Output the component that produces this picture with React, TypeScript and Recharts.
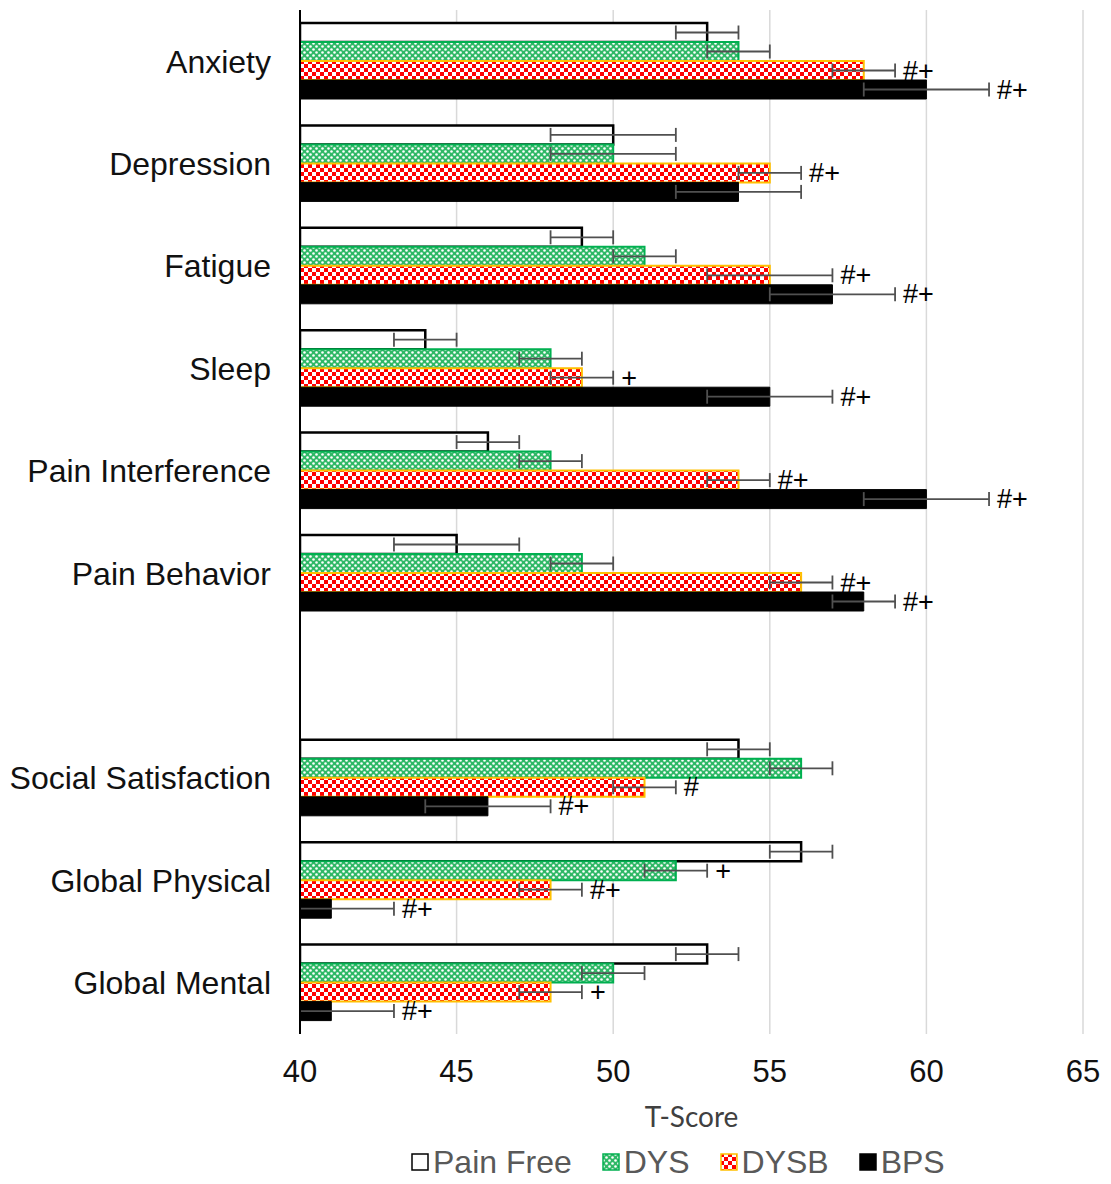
import { BarChart, Bar, XAxis, YAxis, CartesianGrid, ErrorBar, LabelList, Legend, Label } from 'recharts'

const FONT = '"Liberation Sans", Arial, sans-serif'

// categories (the blank one is the visual gap between the two domain groups)
const categories = [
    'Anxiety',
    'Depression',
    'Fatigue',
    'Sleep',
    'Pain Interference',
    'Pain Behavior',
    '',
    'Social Satisfaction',
    'Global Physical',
    'Global Mental',
]

type Err = number | [number, number] | null

const painFree = [53, 50, 49, 44, 46, 45, null, 54, 56, 53]
const painFreeErr: Err[] = [1, 2, 1, 1, 1, 2, null, 1, 1, 1]
const painFreeNote = ['', '', '', '', '', '', '', '', '', '']

const dys = [54, 50, 51, 48, 48, 49, null, 56, 52, 50]
const dysErr: Err[] = [1, 2, 1, 1, 1, 1, null, 1, 1, 1]
const dysNote = ['', '', '', '', '', '', '', '', '+', '']

const dysb = [58, 55, 55, 49, 54, 56, null, 51, 48, 48]
const dysbErr: Err[] = [1, 1, 2, 1, 1, 1, null, 1, 1, 1]
const dysbNote = ['#+', '#+', '#+', '+', '#+', '#+', '', '#', '#+', '+']

// lower whisker of the last two is cut off at the axis (40)
const bps = [60, 54, 57, 55, 60, 58, null, 46, 41, 41]
const bpsErr: Err[] = [2, 2, 2, 2, 2, 1, null, 2, [1, 2], [1, 2]]
const bpsNote = ['#+', '', '#+', '#+', '#+', '#+', '', '#+', '#+', '#+']

const xTicks = [40, 45, 50, 55, 60, 65]

const data = categories.map((name, i) => ({
    name,
    painFree: painFree[i],
    painFreeErr: painFreeErr[i],
    painFreeNote: painFreeNote[i],
    dys: dys[i],
    dysErr: dysErr[i],
    dysNote: dysNote[i],
    dysb: dysb[i],
    dysbErr: dysbErr[i],
    dysbNote: dysbNote[i],
    bps: bps[i],
    bpsErr: bpsErr[i],
    bpsNote: bpsNote[i],
}))

const legendItems = [
    { name: 'Pain Free', fill: '#ffffff', stroke: '#000000' },
    { name: 'DYS', fill: 'url(#dysPattern)', stroke: '#00b050' },
    { name: 'DYSB', fill: 'url(#dysbPattern)', stroke: '#ffc000' },
    { name: 'BPS', fill: '#000000', stroke: '#000000' },
]

const upper = (e: Err) => (Array.isArray(e) ? e[1] : e ?? 0)

// pack note + value + error into the label value so the position
// does not depend on label indexes (null rows are skipped)
const noteKey = (key: string) => (d: any) =>
    d[key + 'Note'] ? { note: d[key + 'Note'], v: d[key], e: upper(d[key + 'Err']) } : ''

function renderNote(props: any) {
    const info = props.value
    if (!info || !info.note) return null
    const vb = props.viewBox ?? props
    const perUnit = vb.width / (info.v - 40)
    const tx = vb.x + vb.width + info.e * perUnit + 8
    return (
        <text x={tx} y={vb.y + vb.height / 2 + 2} dominantBaseline="middle" fontSize={27} fontFamily={FONT} fill="#000">
            {info.note}
        </text>
    )
}

function ChartLegend() {
    return (
        <div style={{ display: 'flex', alignItems: 'center', height: 44, paddingLeft: 411, fontFamily: FONT, fontSize: 32, color: '#595959' }}>
            {legendItems.map((item) => (
                <div key={item.name} style={{ display: 'flex', alignItems: 'center', marginRight: 30 }}>
                    <svg width={18} height={18} style={{ marginRight: 4 }}>
                        <rect x={1} y={1} width={16} height={16} fill={item.fill} stroke={item.stroke} strokeWidth={1.5} />
                    </svg>
                    <span>{item.name}</span>
                </div>
            ))}
        </div>
    )
}

export default function App() {
    return (
        <div style={{ position: 'relative', width: 1111, height: 1184, background: '#fff' }}>
            <style>{'body{margin:0}'}</style>
            <svg width={0} height={0} style={{ position: 'absolute' }}>
                <defs>
                    <pattern id="dysPattern" patternUnits="userSpaceOnUse" width={6} height={6}>
                        <rect width={6} height={6} fill="#2fb866" />
                        <circle cx={1.5} cy={1.5} r={1.3} fill="#ffffff" />
                        <circle cx={4.5} cy={4.5} r={1.3} fill="#ffffff" />
                    </pattern>
                    <pattern id="dysbPattern" patternUnits="userSpaceOnUse" width={8} height={8}>
                        <rect width={8} height={8} fill="#ffffff" />
                        <rect x={0} y={0} width={4} height={4} fill="#ff0000" />
                        <rect x={4} y={4} width={4} height={4} fill="#ff0000" />
                    </pattern>
                </defs>
            </svg>
            <BarChart
                width={1111}
                height={1184}
                data={data}
                layout="vertical"
                barSize={19}
                barGap={0}
                margin={{ top: 10, right: 28, bottom: 0, left: 0 }}
            >
                <CartesianGrid horizontal={false} stroke="#d9d9d9" strokeWidth={1.5} />
                <XAxis
                    type="number"
                    domain={[40, 65]}
                    ticks={xTicks}
                    allowDataOverflow
                    axisLine={false}
                    tickLine={false}
                    tickSize={0}
                    tickMargin={26}
                    height={106}
                    tick={{ fontSize: 31, fill: '#111', fontFamily: FONT }}
                >
                    <Label
                        content={(p: any) => {
                            const vb = p.viewBox
                            return (
                                <text x={vb.x + vb.width / 2} y={1120} textAnchor="middle" dominantBaseline="middle" fontSize={28} fontFamily="Lato, sans-serif" fill="#404040">
                                    T-Score
                                </text>
                            )
                        }}
                    />
                </XAxis>
                <YAxis
                    type="category"
                    dataKey="name"
                    width={300}
                    interval={0}
                    tickLine={false}
                    tickSize={0}
                    tickMargin={29}
                    axisLine={{ stroke: '#000', strokeWidth: 2 }}
                    tick={{ fontSize: 32, fill: '#111', fontFamily: FONT }}
                />
                <Legend verticalAlign="bottom" content={() => <ChartLegend />} wrapperStyle={{ left: 0, width: 1111 }} />
                <Bar dataKey="painFree" name="Pain Free" fill="#ffffff" stroke="#000000" strokeWidth={2.5} isAnimationActive={false}>
                    <ErrorBar dataKey="painFreeErr" direction="x" width={7} stroke="#505050" strokeWidth={1.8} />
                    <LabelList dataKey={noteKey('painFree')} content={renderNote} />
                </Bar>
                <Bar dataKey="dys" name="DYS" fill="url(#dysPattern)" stroke="#00b050" strokeWidth={2} isAnimationActive={false}>
                    <ErrorBar dataKey="dysErr" direction="x" width={7} stroke="#505050" strokeWidth={1.8} />
                    <LabelList dataKey={noteKey('dys')} content={renderNote} />
                </Bar>
                <Bar dataKey="dysb" name="DYSB" fill="url(#dysbPattern)" stroke="#ffc000" strokeWidth={2} isAnimationActive={false}>
                    <ErrorBar dataKey="dysbErr" direction="x" width={7} stroke="#505050" strokeWidth={1.8} />
                    <LabelList dataKey={noteKey('dysb')} content={renderNote} />
                </Bar>
                <Bar dataKey="bps" name="BPS" fill="#000000" stroke="#000000" strokeWidth={1} isAnimationActive={false}>
                    <ErrorBar dataKey="bpsErr" direction="x" width={7} stroke="#505050" strokeWidth={1.8} />
                    <LabelList dataKey={noteKey('bps')} content={renderNote} />
                </Bar>
            </BarChart>
        </div>
    )
}
